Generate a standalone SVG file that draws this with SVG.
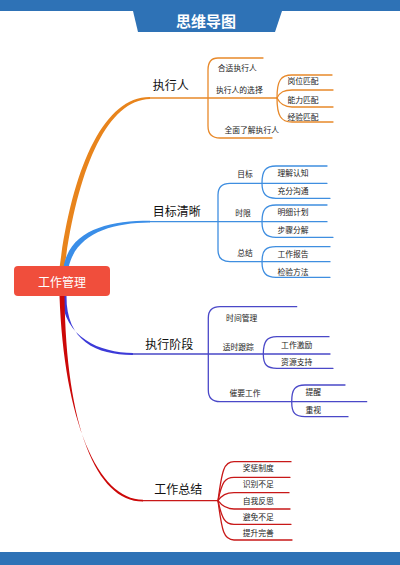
<svg xmlns="http://www.w3.org/2000/svg" width="400" height="565" viewBox="0 0 400 565">
<style>
text{font-family:"Noto Sans CJK SC","Noto Sans",sans-serif;text-anchor:middle;fill:#222}
.b{font-size:12px;fill:#111}
.s{font-size:7.8px}
.ln{fill:none;stroke-width:1.3;stroke-linecap:round}
.o{stroke:#e8892a}.bl{stroke:#3f8ee0}.p{stroke:#4a48c8}.r{stroke:#c81818}
</style>
<rect x="0" y="0" width="400" height="11" fill="#2e72b6"/>
<path d="M133,11 H282 L275,32 H138 Z" fill="#2e72b6"/>
<text x="206" y="26.5" style="font-size:15px;font-weight:bold;fill:#fff">思维导图</text>
<rect x="0" y="552" width="400" height="13" fill="#2e72b6"/>

<g id="connectors">
<path d="M59.5,268 C72,170 103,96.5 150,97 L150,99 C106,99.8 77,172 64.5,268 Z" fill="#e8841c"/>
<path d="M63.5,267 C70,230 108,220.8 150,220.8 L150,222.6 C110,222.7 75,235 68.5,268 Z" fill="#3a8ee8"/>
<path d="M61.5,296 C64,338 100,352.6 133,353.1 L133,354.9 C98,355.2 66,342 66.5,296 Z" fill="#3c3ad8"/>
<path d="M59.5,296 C64,420 98,499.8 143,499.8 L143,501.6 C96,501.8 66,425 64.5,296 Z" fill="#cc0808"/>

<path class="ln o" d="M150,98 H277"/>
<path class="ln o" d="M263,58 H218 Q208,58 208,70 V126 Q208,138 220,138 H272"/>
<path class="ln o" d="M277,98 C277,80 281,75 292,75 H332"/>
<path class="ln o" d="M277,98 C280,92 284,90 292,90 H333"/>
<path class="ln o" d="M277,98 C280,104 284,107 292,107 H333"/>
<path class="ln o" d="M277,98 C277,116 281,122 292,122 H333"/>

<path class="ln bl" d="M150,221.7 H327"/>
<path class="ln bl" d="M262,183.3 H230 Q218,183.3 218,195 V250 Q218,261.7 230,261.7 H262"/>
<path class="ln bl" d="M262,183.3 C262,170 266,166 276,166 H327 M262,183.3 H327 M262,183.3 C262,194 266,198.3 276,198.3 H330"/>
<path class="ln bl" d="M262,221.7 C262,209 266,205 276,205 H327 M262,221.7 C262,233 266,237.3 276,237.3 H333"/>
<path class="ln bl" d="M262,261.7 C262,250 266,246.7 276,246.7 H330 M262,261.7 H330 M262,261.7 C262,273 266,277.3 276,277.3 H330"/>

<path class="ln p" d="M133,354 H263"/>
<path class="ln p" d="M296.7,306.7 H220 Q208.3,306.7 208.3,318 V390 Q208.3,401.7 220,401.7 H291.7"/>
<path class="ln p" d="M263.3,354 C263.3,341 267,336.7 277,336.7 H329 M263.3,354 H330 M263.3,354 C263.3,365 267,368.3 277,368.3 H333"/>
<path class="ln p" d="M291.7,401.7 C291.7,389 295,385 305,385 H345 M291.7,401.7 H366.7 M291.7,401.7 C291.7,413 295,416.7 305,416.7 H348"/>

<path class="ln r" d="M143,500.7 H218"/>
<path class="ln r" d="M218,500.7 C222,470 224,461.7 234,461.7 H291"/>
<path class="ln r" d="M218,500.7 C222,482 225,477.3 234,477.3 H290"/>
<path class="ln r" d="M218,500.7 C222,495 226,492.7 234,492.7 H289"/>
<path class="ln r" d="M218,500.7 C222,506 226,509 234,509 H290"/>
<path class="ln r" d="M218,500.7 C222,519 225,524.3 234,524.3 H291"/>
<path class="ln r" d="M218,500.7 C222,532 224,540 234,540 H292"/>
</g>

<g id="root">
<rect x="14" y="266" width="96" height="30" rx="4" fill="#f04e3c"/>
<text x="62" y="286.5" style="font-size:12px;fill:#fff">工作管理</text>
</g>

<g id="b1">
<text class="b" x="170.7" y="90.3">执行人</text>
<text class="s" x="237.3" y="70.5">合适执行人</text>
<text class="s" x="239.3" y="92.8">执行人的选择</text>
<text class="s" x="251.7" y="132.8">全面了解执行人</text>
<text class="s" x="303" y="83.8">岗位匹配</text>
<text class="s" x="303" y="102.8">能力匹配</text>
<text class="s" x="303" y="119.5">经验匹配</text>
</g>

<g id="b2">
<text class="b" x="176.7" y="216">目标清晰</text>
<text class="s" x="245" y="177.1">目标</text>
<text class="s" x="243" y="216.1">时限</text>
<text class="s" x="245" y="255.5">总结</text>
<text class="s" x="293" y="175.5">理解认知</text>
<text class="s" x="293" y="193.5">充分沟通</text>
<text class="s" x="293" y="214.5">明细计划</text>
<text class="s" x="293" y="232.8">步骤分解</text>
<text class="s" x="293" y="256.8">工作报告</text>
<text class="s" x="293" y="274.8">检验方法</text>
</g>

<g id="b3">
<text class="b" x="169.3" y="348.6">执行阶段</text>
<text class="s" x="241.7" y="321.1">时间管理</text>
<text class="s" x="238.3" y="349.5">适时跟踪</text>
<text class="s" x="245" y="396.1">催要工作</text>
<text class="s" x="296.7" y="347.8">工作激励</text>
<text class="s" x="296.7" y="365.1">资源支持</text>
<text class="s" x="313.3" y="394.5">提醒</text>
<text class="s" x="313.3" y="412.8">重视</text>
</g>

<g id="b4">
<text class="b" x="178.3" y="494.3">工作总结</text>
<text class="s" x="258.3" y="471.1">奖惩制度</text>
<text class="s" x="258.3" y="486.8">识别不足</text>
<text class="s" x="258.3" y="503.8">自我反思</text>
<text class="s" x="258.3" y="520.1">避免不足</text>
<text class="s" x="258.3" y="536.1">提升完善</text>
</g>
</svg>
